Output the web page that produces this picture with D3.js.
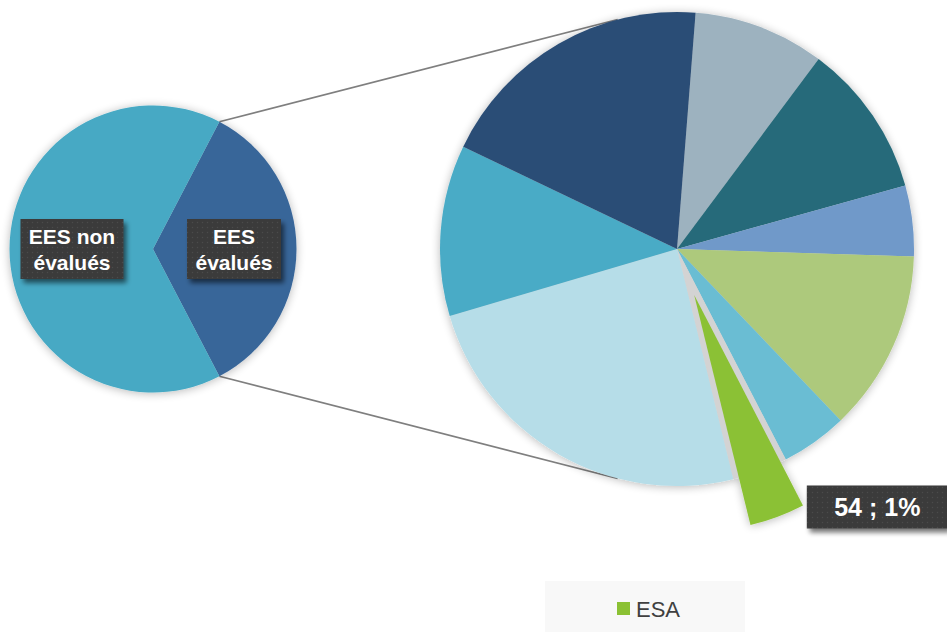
<!DOCTYPE html>
<html>
<head>
<meta charset="utf-8">
<script src="https://cdn.jsdelivr.net/npm/d3@7"></script>
<style>
  body { margin: 0; background: #fff; }
  svg { display: block; }
</style>
</head>
<body>
<svg id="chart" width="947" height="632"></svg>
<script>
// first pie : établissements évalués / non évalués
const leftLabels = ["EES\névalués", "EES non\névalués"];
const leftValues = [1431, 2693];
const leftColors = ["#386699", "#46a9c4"];

// second pie : détail des EES évalués (clockwise)
const rightCategories = ["c1", "c2", "c3", "c4", "c5", "ESA", "c7", "c8", "c9"];
const rightValues = [128, 150, 69, 177, 65, 54, 347, 167, 274];
const rightColors = ["#9db2bf", "#276b7a", "#7099c9", "#adc97c", "#6bbdd3",
                     "#8bc134", "#b6dde8", "#4aabc6", "#2c4e76"];

const legendItems = ["ESA"];
const legendColors = ["#8bc134"];

const svg = d3.select("#chart");
const deg = Math.PI / 180;

const defs = svg.append("defs");
const sh = defs.append("filter").attr("id", "pieShadow")
    .attr("x", "-20%").attr("y", "-20%").attr("width", "140%").attr("height", "140%");
sh.append("feGaussianBlur").attr("in", "SourceAlpha").attr("stdDeviation", 5).attr("result", "b");
sh.append("feOffset").attr("in", "b").attr("dx", 0).attr("dy", 1).attr("result", "o");
sh.append("feComponentTransfer").attr("in", "o").attr("result", "s")
  .append("feFuncA").attr("type", "linear").attr("slope", 0.28);
let m = sh.append("feMerge");
m.append("feMergeNode").attr("in", "s");
m.append("feMergeNode").attr("in", "SourceGraphic");

const bs = defs.append("filter").attr("id", "boxShadow")
    .attr("x", "-20%").attr("y", "-30%").attr("width", "150%").attr("height", "180%");
bs.append("feGaussianBlur").attr("in", "SourceAlpha").attr("stdDeviation", 2.5).attr("result", "b");
bs.append("feOffset").attr("in", "b").attr("dx", 3).attr("dy", 4).attr("result", "o");
bs.append("feComponentTransfer").attr("in", "o").attr("result", "s")
  .append("feFuncA").attr("type", "linear").attr("slope", 0.55);
m = bs.append("feMerge");
m.append("feMergeNode").attr("in", "s");
m.append("feMergeNode").attr("in", "SourceGraphic");

const pat = defs.append("pattern").attr("id", "dots")
    .attr("width", 5).attr("height", 5).attr("patternUnits", "userSpaceOnUse");
pat.append("rect").attr("width", 5).attr("height", 5).attr("fill", "#3a3a3a");
pat.append("circle").attr("cx", 2.5).attr("cy", 2.5).attr("r", 0.8).attr("fill", "#4b4b4b");

// geometry
const L = {cx: 153, cy: 249, r: 143.5};
const R = {cx: 677, cy: 249, r: 237};

const pt = (c, a, r) => [c.cx + Math.sin(a) * r, c.cy - Math.cos(a) * r];

// left pie
const evalShare = leftValues[0] / d3.sum(leftValues);
const leftStart = Math.PI / 2 - evalShare * Math.PI;
const leftPie = d3.pie().sort(null).startAngle(leftStart).endAngle(leftStart + 2 * Math.PI);
const leftArcs = leftPie(leftValues);
const leftArc = d3.arc().innerRadius(0).outerRadius(L.r);

// connector lines (before right pie so it covers them)
const connAngles = [[leftArcs[0].startAngle, 345.5 * deg], [leftArcs[0].endAngle, 194.5 * deg]];
svg.append("g").selectAll("line").data(connAngles).join("line")
  .each(function(d) {
    const a = pt(L, d[0], L.r), b = pt(R, d[1], R.r);
    d3.select(this).attr("x1", a[0]).attr("y1", a[1]).attr("x2", b[0]).attr("y2", b[1]);
  })
  .attr("stroke", "#7f7f7f").attr("stroke-width", 1.6);

svg.append("g").attr("transform", `translate(${L.cx},${L.cy})`)
  .attr("filter", "url(#pieShadow)")
  .selectAll("path").data(leftArcs).join("path")
  .attr("d", leftArc).attr("fill", (d, i) => leftColors[i]);

// right pie
const rStart = 4.5 * deg;
const rightPie = d3.pie().sort(null).startAngle(rStart).endAngle(rStart + 2 * Math.PI);
const rightArcs = rightPie(rightValues);
const rightArc = d3.arc().innerRadius(0).outerRadius(R.r);
const esaIdx = rightCategories.indexOf("ESA");
const explode = 49;

const rg = svg.append("g").attr("transform", `translate(${R.cx},${R.cy})`)
  .attr("filter", "url(#pieShadow)");
rg.selectAll("path.s").data(rightArcs).join("path").attr("class", "s")
  .attr("d", rightArc)
  .attr("fill", (d, i) => i === esaIdx ? "#d3d3d3" : rightColors[i]);
const esa = rightArcs[esaIdx];
const mid = (esa.startAngle + esa.endAngle) / 2;
rg.append("path").attr("d", rightArc(esa)).attr("fill", rightColors[esaIdx])
  .attr("transform", `translate(${Math.sin(mid) * explode},${-Math.cos(mid) * explode})`);

// label boxes
function labelBox(cx, cy, w, h, lines, size, lh) {
  const g = svg.append("g");
  g.append("rect").attr("x", cx - w / 2).attr("y", cy - h / 2).attr("width", w).attr("height", h)
    .attr("fill", "url(#dots)").attr("filter", "url(#boxShadow)");
  const t = g.append("text").attr("text-anchor", "middle")
    .attr("font-family", "'Liberation Sans', Arial, sans-serif")
    .attr("font-weight", "bold").attr("font-size", size).attr("fill", "#fff");
  lines.forEach((s, i) => {
    t.append("tspan").attr("x", cx)
      .attr("y", cy + (i - (lines.length - 1) / 2) * lh + size * 0.36).text(s);
  });
}

const lblArc = d3.arc().innerRadius(81).outerRadius(81);
leftArcs.forEach((d, i) => {
  const c = lblArc.centroid(d);
  const w = i === 0 ? 94 : 103;
  labelBox(L.cx + c[0], L.cy + c[1], w, 60, leftLabels[i].split("\n"), 21, 26);
});

const esaTotal = d3.sum(leftValues);
const tip = pt(R, mid, R.r + explode);
labelBox(tip[0] + 100, 507, 141, 43,
  [rightValues[esaIdx] + " ; " + Math.round(rightValues[esaIdx] / esaTotal * 100) + "%"], 25, 0);

// legend
const lg = svg.append("g");
lg.append("rect").attr("x", 545).attr("y", 581).attr("width", 200).attr("height", 51).attr("fill", "#f8f8f8");
const li = lg.selectAll("g").data(legendItems).join("g");
li.append("rect").attr("x", 617).attr("y", 602).attr("width", 13).attr("height", 13)
  .attr("fill", (d, i) => legendColors[i]);
li.append("text").attr("x", 636).attr("y", 617)
  .attr("font-family", "'Liberation Sans', Arial, sans-serif").attr("font-size", 22)
  .attr("fill", "#404040").text(d => d);
</script>
</body>
</html>
